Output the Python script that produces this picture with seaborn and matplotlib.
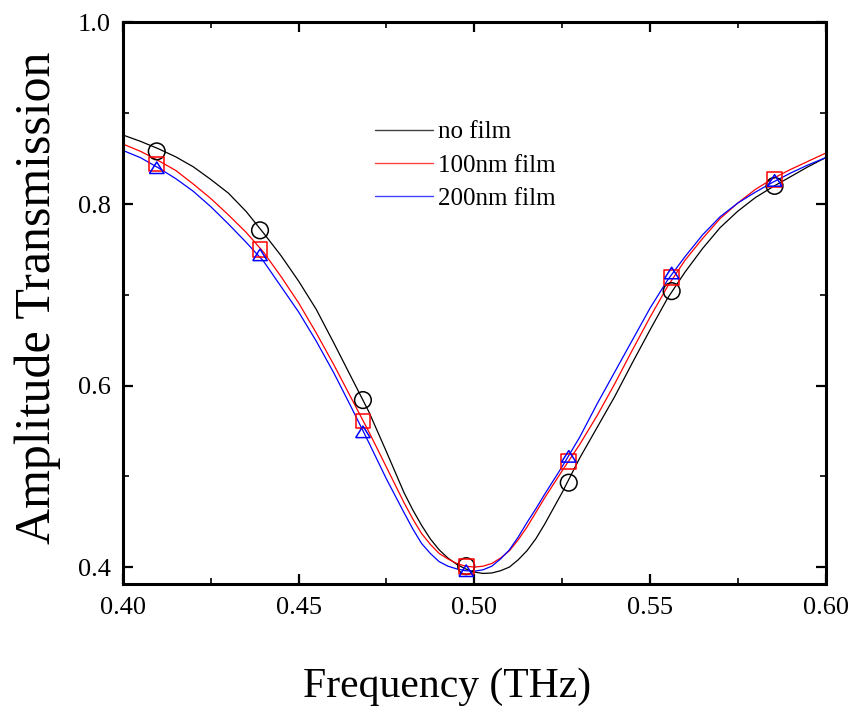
import numpy as np
import pandas as pd
import matplotlib
matplotlib.use("Agg")
import matplotlib.pyplot as plt
import seaborn as sns

# ---------------- data ----------------
series_names = ["no film", "100nm film", "200nm film"]

curve_freq = [0.400, 0.405, 0.410, 0.415, 0.420, 0.425, 0.430, 0.435, 0.440,
              0.445, 0.450, 0.455, 0.460, 0.465, 0.470, 0.475, 0.480, 0.4825,
              0.485, 0.4875, 0.490, 0.4925, 0.495, 0.4975, 0.500, 0.5025,
              0.505, 0.5075, 0.510, 0.5125, 0.515, 0.5175, 0.520, 0.525,
              0.530, 0.535, 0.540, 0.545, 0.550, 0.555, 0.560, 0.565, 0.570,
              0.575, 0.580, 0.585, 0.590, 0.595, 0.600]

curve_nofilm = [0.876, 0.869, 0.861, 0.852, 0.841, 0.827, 0.812, 0.792, 0.768,
                0.743, 0.715, 0.684, 0.647, 0.609, 0.571, 0.527, 0.482, 0.463,
                0.446, 0.431, 0.419, 0.410, 0.403, 0.398, 0.3945, 0.393,
                0.3935, 0.396, 0.400, 0.408, 0.418, 0.431, 0.447, 0.482,
                0.520, 0.554, 0.588, 0.625, 0.661, 0.696, 0.725, 0.751, 0.774,
                0.792, 0.807, 0.819, 0.830, 0.841, 0.851]

curve_100nm = [0.866, 0.858, 0.848, 0.837, 0.822, 0.806, 0.788, 0.769, 0.747,
               0.720, 0.691, 0.658, 0.623, 0.586, 0.549, 0.510, 0.471, 0.453,
               0.437, 0.425, 0.415, 0.409, 0.404, 0.401, 0.400, 0.401,
               0.404, 0.410, 0.418, 0.430, 0.444, 0.460, 0.476, 0.506,
               0.535, 0.567, 0.602, 0.639, 0.675, 0.709, 0.738, 0.762, 0.784,
               0.801, 0.816, 0.828, 0.838, 0.847, 0.856]

curve_200nm = [0.859, 0.851, 0.840, 0.828, 0.814, 0.797, 0.778, 0.758, 0.737,
               0.709, 0.681, 0.649, 0.614, 0.576, 0.537, 0.497, 0.460, 0.442,
               0.426, 0.415, 0.406, 0.401, 0.398, 0.396, 0.3955, 0.397,
               0.401, 0.409, 0.419, 0.433, 0.449, 0.464, 0.480, 0.5105,
               0.543, 0.580, 0.615, 0.650, 0.685, 0.716, 0.742, 0.766, 0.786,
               0.801, 0.813, 0.824, 0.834, 0.843, 0.851]

marker_freq = [0.4096, 0.4390, 0.4683, 0.4977, 0.5269, 0.5562, 0.5855]
marker_nofilm = [0.858, 0.771, 0.584, 0.401, 0.493, 0.704, 0.820]
marker_100nm = [0.844, 0.750, 0.561, 0.401, 0.516, 0.719, 0.827]
marker_200nm = [0.840, 0.744, 0.549, 0.396, 0.522, 0.724, 0.826]

x_ticks = [0.40, 0.45, 0.50, 0.55, 0.60]
y_ticks = [0.4, 0.6, 0.8, 1.0]

# ---------------- styling ----------------
sns.set_theme(style="white")
plt.rcParams["font.family"] = ["Liberation Serif", "DejaVu Serif"]
plt.rcParams["text.color"] = "black"
plt.rcParams["axes.labelcolor"] = "black"

colors = ["black", "#ff0000", "#0000ff"]
tri = [(-1.0, -0.8), (1.0, -0.8), (0.0, 0.8), (-1.0, -0.8)]
markers = ["o", "s", tri]
msizes = [12.0, 10.6, 10.4]

fig = plt.figure(figsize=(8.55, 7.16), dpi=100)
ax = fig.add_axes([0.1439, 0.1839, 0.8216, 0.7847])

curves = [curve_nofilm, curve_100nm, curve_200nm]
mvals = [marker_nofilm, marker_100nm, marker_200nm]

for name, col, cv in zip(series_names, colors, curves):
    df = pd.DataFrame({"freq": curve_freq, "amp": cv})
    sns.lineplot(data=df, x="freq", y="amp", ax=ax, color=col, lw=0.9,
                 label=name, sort=False, zorder=2)

for col, mv, mk, ms in zip(colors, mvals, markers, msizes):
    dfm = pd.DataFrame({"freq": marker_freq, "amp": mv})
    sns.scatterplot(data=dfm, x="freq", y="amp", ax=ax, marker=mk,
                    s=ms ** 2, facecolor="none", edgecolor=col,
                    linewidth=1.1, zorder=3, legend=False)

ax.set_xlim(0.40, 0.60)
ax.set_ylim(0.381, 1.0)
ax.set_xticks(x_ticks)
ax.set_xticklabels([f"{v:.2f}" for v in x_ticks])
ax.set_yticks(y_ticks)
ax.set_yticklabels([f"{v:.1f}" for v in y_ticks])
ax.set_xticks(np.arange(0.425, 0.6, 0.05), minor=True)
ax.set_yticks([0.5, 0.7, 0.9], minor=True)

for sp in ax.spines.values():
    sp.set_visible(True)
    sp.set_color("black")
    sp.set_linewidth(2.2)

ax.tick_params(which="major", direction="in", length=7.5, width=1.6,
               top=True, right=True, bottom=True, left=True,
               labelsize=19, colors="black", pad=9)
ax.tick_params(which="minor", direction="in", length=4.5, width=1.4,
               top=True, right=True, bottom=True, left=True)

ax.set_xlabel("Frequency (THz)", fontsize=30, labelpad=35, color="black")
ax.set_ylabel("Amplitude Transmission", fontsize=36, labelpad=12,
              color="black")
ax.xaxis.label.set_x(0.461)
ax.yaxis.label.set_y(0.51)

leg = ax.legend(loc="upper left", bbox_to_anchor=(375 / 855, 1 - 121 / 716),
                bbox_transform=fig.transFigure, frameon=False, fontsize=18,
                handlelength=2.3, handletextpad=0.22, labelspacing=0.43,
                borderaxespad=0, borderpad=0)
for t in leg.get_texts():
    t.set_color("black")
for h in leg.get_lines():
    h.set_linewidth(1.0)
    h.set_alpha(0.75)

fig.savefig("out.png", dpi=100)
